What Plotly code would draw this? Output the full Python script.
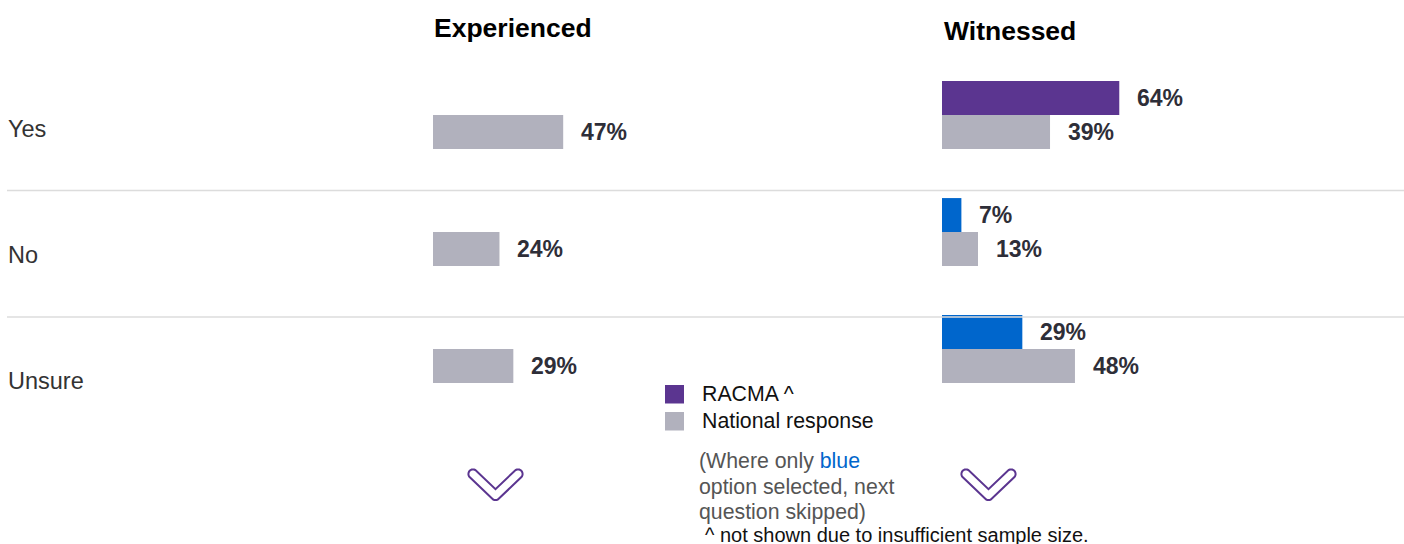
import math
import plotly.graph_objects as go

# ---- data -------------------------------------------------------------
categories = ["Yes", "No", "Unsure"]
experienced_national = [47, 24, 29]
witnessed_racma = [64, 7, 29]
witnessed_national = [39, 13, 48]
panel_titles = ["Experienced", "Witnessed"]
legend_labels = ["RACMA ^", "National response"]

# ---- styling ----------------------------------------------------------
W, H = 1404, 544
PURPLE = "#5b3590"
GREY = "#b1b1bd"
BLUE = "#0066cc"
LABEL = "#2e2e38"
FONT = "Liberation Sans, Arial, sans-serif"
racma_colors = [PURPLE, BLUE, BLUE]

BW = 0.29          # bar thickness in category units
pos = list(range(len(categories)))


def px(x):
    return x / W


def py(y):
    return 1 - y / H


fig = go.Figure()

fig.add_trace(go.Bar(
    y=pos, x=experienced_national, orientation="h", width=BW, offset=0,
    marker=dict(color=GREY, line=dict(width=0)),
    xaxis="x", yaxis="y", name=legend_labels[1], hoverinfo="skip",
))
fig.add_trace(go.Bar(
    y=pos, x=witnessed_racma, orientation="h", width=BW, offset=-BW,
    marker=dict(color=racma_colors, line=dict(width=0)),
    xaxis="x2", yaxis="y", name=legend_labels[0], hoverinfo="skip",
))
fig.add_trace(go.Bar(
    y=pos, x=witnessed_national, orientation="h", width=BW, offset=0,
    marker=dict(color=GREY, line=dict(width=0)),
    xaxis="x2", yaxis="y", name=legend_labels[1], hoverinfo="skip",
))

annotations = []

# value labels next to each bar
for values, xref, off in [
    (experienced_national, "x", 0),
    (witnessed_racma, "x2", -BW),
    (witnessed_national, "x2", 0),
]:
    for i, v in enumerate(values):
        annotations.append(dict(
            x=v, y=pos[i] + off + BW / 2, xref=xref, yref="y",
            text=f"<b>{v}%</b>", showarrow=False, xanchor="left",
            yanchor="middle", xshift=16,
            font=dict(family=FONT, size=23, color=LABEL),
        ))

# category labels on the left
for i, c in enumerate(categories):
    annotations.append(dict(
        x=px(6), y=py(129 + 126 * i), xref="paper", yref="paper",
        text=c, showarrow=False, xanchor="left", yanchor="middle",
        font=dict(family=FONT, size=23.5, color="#333333"),
    ))

# panel titles
for t, x0, y0 in [(panel_titles[0], 432, 28), (panel_titles[1], 942, 31)]:
    annotations.append(dict(
        x=px(x0), y=py(y0), xref="paper", yref="paper",
        text=f"<b>{t}</b>", showarrow=False, xanchor="left", yanchor="middle",
        font=dict(family=FONT, size=26.5, color="#000000"),
    ))

# legend text
for lab, y0 in [(legend_labels[0], 394), (legend_labels[1], 421)]:
    annotations.append(dict(
        x=px(700), y=py(y0), xref="paper", yref="paper",
        text=lab, showarrow=False, xanchor="left", yanchor="middle",
        font=dict(family=FONT, size=21.3, color="#111111"),
    ))

# footnote lines
notes = [
    (f"(Where only <span style='color:{BLUE}'>blue</span>", 697, 461, "#555555", 21.3),
    ("option selected, next", 697, 487, "#555555", 21.3),
    ("question skipped)", 697, 512, "#555555", 21.3),
    ("^ not shown due to insufficient sample size.", 703, 535, "#111111", 20),
]
for txt, x0, y0, col, size in notes:
    annotations.append(dict(
        x=px(x0), y=py(y0), xref="paper", yref="paper",
        text=txt, showarrow=False, xanchor="left", yanchor="middle",
        font=dict(family=FONT, size=size, color=col),
    ))

shapes = []

# row separators
for i in range(len(categories) - 1):
    y0 = 190.5 + 126.5 * i
    shapes.append(dict(
        type="line", xref="paper", yref="paper",
        x0=px(7), x1=1, y0=py(y0), y1=py(y0),
        line=dict(color="#dcdcdc", width=1.5),
    ))

# legend swatches
for col, y0 in [(PURPLE, 385), (GREY, 412)]:
    shapes.append(dict(
        type="rect", xref="paper", yref="paper",
        x0=px(665), x1=px(684), y0=py(y0), y1=py(y0 + 18.5),
        fillcolor=col, line=dict(width=0),
    ))


def chevron_path(cx, top, bottom, half_w, h, n=12):
    """Outline of a thick, round-capped chevron, returned as a paper path."""
    A = (cx - half_w, top)
    B = (cx, bottom)
    C = (cx + half_w, top)

    def unit(p, q):
        dx, dy = q[0] - p[0], q[1] - p[1]
        L = math.hypot(dx, dy)
        return dx / L, dy / L

    d1 = unit(A, B)
    d2 = unit(B, C)
    n1 = (-d1[1], d1[0])
    n2 = (-d2[1], d2[0])

    def arc(O, a0, sweep):
        return [(O[0] + h * math.cos(a0 + sweep * k / n),
                 O[1] + h * math.sin(a0 + sweep * k / n)) for k in range(n + 1)]

    a1 = math.atan2(n1[1], n1[0])
    a2 = math.atan2(n2[1], n2[0])
    pts = [(A[0] + h * n1[0], A[1] + h * n1[1])]
    pts += arc(B, a1, a2 - a1)
    pts += arc(C, a2, -math.pi)
    dot = n1[0] * n2[0] + n1[1] * n2[1]
    pts.append((B[0] - h * (n1[0] + n2[0]) / (1 + dot),
                B[1] - h * (n1[1] + n2[1]) / (1 + dot)))
    pts += arc(A, a1 + math.pi, -math.pi)
    path = "M " + " L ".join(f"{px(x):.5f},{py(y):.5f}" for x, y in pts) + " Z"
    return path


for cx in (495.5, 988.5):
    shapes.append(dict(
        type="path", xref="paper", yref="paper",
        path=chevron_path(cx, 474, 495.5, 22.5, 4.6),
        line=dict(color=PURPLE, width=2), fillcolor="rgba(0,0,0,0)",
    ))

axis_common = dict(visible=False, showgrid=False, zeroline=False, fixedrange=True)

fig.update_layout(
    width=W, height=H,
    margin=dict(l=0, r=0, t=0, b=0),
    paper_bgcolor="white", plot_bgcolor="white",
    showlegend=False,
    barmode="overlay",
    xaxis=dict(domain=[px(433), px(710)], range=[0, 100], anchor="y", **axis_common),
    xaxis2=dict(domain=[px(942), px(1219)], range=[0, 100], anchor="y", **axis_common),
    yaxis=dict(domain=[0, 1], range=[3.6667, -0.9829], anchor="x", **axis_common),
    annotations=annotations,
    shapes=shapes,
    font=dict(family=FONT),
)

fig.write_html("out.html")
